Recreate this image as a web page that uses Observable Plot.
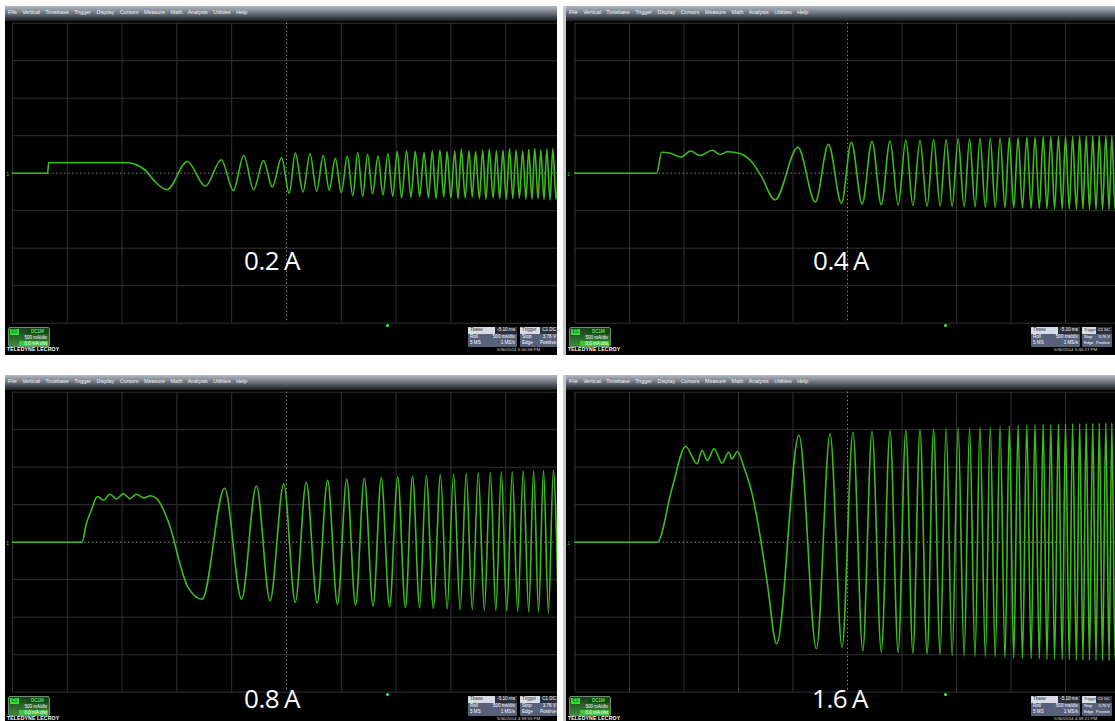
<!DOCTYPE html>
<html><head><meta charset="utf-8">
<script src="https://cdn.jsdelivr.net/npm/d3@7"></script>
<script src="https://cdn.jsdelivr.net/npm/@observablehq/plot@0.6"></script>
<style>
html,body{margin:0;padding:0;background:#fff;}
body{width:1115px;height:721px;position:relative;overflow:hidden;font-family:"Liberation Sans",Arial,sans-serif;}
.panel{position:absolute;background:#000;overflow:hidden;}
.panel.right{border-left:3px solid #c8c8c8;}
.menu{position:absolute;left:0;top:0;width:100%;height:15px;background:linear-gradient(#b4bac4 0%,#7a808a 40%,#3a3e45 80%,#1a1c20 100%);color:#f0f2f6;font-size:5.4px;line-height:13px;padding-left:3px;white-space:nowrap;word-spacing:4px;box-sizing:border-box;}
.scope{position:absolute;left:0;top:15px;}
.chbox{position:absolute;left:3px;top:321px;width:42px;height:20px;border-radius:2px;border:1px solid #6b8f6b;background:linear-gradient(#1f3d1f,#3a8a3a);box-sizing:border-box;font-size:4.5px;color:#fff;line-height:6px;}
.chbox .c1{position:absolute;left:1px;top:1px;width:9px;height:6px;background:#33e033;color:#062;text-align:center;font-weight:bold;}
.chbox .dc{position:absolute;left:18px;top:1px;width:21px;height:5px;background:#0d4d0d;color:#9f9;text-align:center;}
.chbox .r2{position:absolute;right:2px;top:7px;}
.chbox .r3{position:absolute;left:10px;right:1px;top:13px;height:5px;background:#39c839;color:#fff;text-align:right;padding-right:1px;}
.brand{position:absolute;left:2px;top:341px;font-size:5.2px;line-height:5px;color:#fff;font-weight:bold;letter-spacing:0.1px;}
.infobox{position:absolute;top:321px;height:20px;background:#58607a;border-radius:1px;font-size:4.6px;color:#fff;line-height:6.6px;overflow:hidden;}
.infobox.small{font-size:4px;}
.infobox .hd{background:#d8dce6;color:#333;height:6.6px;position:relative;padding-left:2px;}
.infobox .hd span{position:absolute;right:0;top:0;height:6.6px;background:#2a2f3a;color:#fff;padding:0 2px;}
.infobox .row{padding-left:2px;position:relative;}
.infobox .row span{position:absolute;right:2px;}
.stamp{position:absolute;top:342px;font-size:4.4px;line-height:4.5px;color:#ddd;}
.tdot{position:absolute;top:318px;width:3px;height:3px;border-radius:50%;background:#3f3;}
.lbl{position:absolute;color:#fff;font-family:"Open Sans","Noto Sans",sans-serif;font-size:26px;line-height:26px;letter-spacing:-0.5px;word-spacing:-1.5px;transform:translateX(-50%);white-space:nowrap;}
.mk{position:absolute;left:1px;top:165px;font-size:6px;color:#3cbc1e;}
</style></head>
<body>
<script>
// ---- data (time in divisions, current in divisions of 500 mA) ----
const menuItems = ["File","Vertical","Timebase","Trigger","Display","Cursors","Measure","Math","Analysis","Utilities","Help"];
const labels = ["0.2 A","0.4 A","0.8 A","1.6 A"];
const stamps = ["5/30/2014 5:00:58 PM","5/30/2014 5:00:27 PM","5/30/2014 4:59:55 PM","5/30/2014 4:59:21 PM"];
const gridDivsX = [0,1,2,3,4,5,6,7,8,9,10];
const gridDivsY = [-4,-3,-2,-1,0,1,2,3,4];

const trace02A = [
[0,0],[0.64,0],[0.66,0.28],[2.12,0.28],[2.21,0.25],[2.43,0.07],[2.58,-0.19],[2.82,-0.44],[3.19,0.31],[3.52,-0.35],[3.81,0.36],[4.03,-0.46],[4.22,0.47],[4.40,-0.44],[4.58,0.34],[4.74,-0.37],[4.91,0.41],[5.05,-0.54],[5.16,0.54],
[5.30,-0.50],[5.43,0.52],[5.55,-0.48],[5.67,0.47],[5.78,-0.45],[5.89,0.40],[6.00,-0.52],[6.11,0.45],[6.21,-0.60],[6.30,0.55],[6.39,-0.62],[6.48,0.50],[6.57,-0.55],[6.67,0.45],[6.76,-0.58],[6.85,0.52],[6.94,-0.62],[7.02,0.58],[7.10,-0.66],[7.19,0.60],[7.27,-0.64],[7.35,0.58],[7.43,-0.62],[7.51,0.55],[7.59,-0.66],[7.66,0.60],[7.73,-0.68],[7.80,0.62],[7.87,-0.64],[7.93,0.58],[8.00,-0.66],[8.07,0.60],[8.13,-0.68],[8.19,0.64],[8.26,-0.66],[8.33,0.60],[8.39,-0.64],[8.45,0.58],[8.52,-0.68],[8.58,0.62],[8.64,-0.70],[8.70,0.64],[8.77,-0.66],[8.83,0.60],[8.89,-0.68],[8.95,0.62],[9.01,-0.70],[9.07,0.66],[9.13,-0.68],[9.19,0.62],[9.25,-0.66],[9.31,0.60],[9.37,-0.70],[9.42,0.64],[9.48,-0.70],[9.53,0.66],[9.59,-0.68],[9.64,0.62],[9.70,-0.70],[9.75,0.64],[9.81,-0.72],[9.86,0.66],[9.92,-0.70],[9.97,0.64]
];
const trace04A = [
[0,0],[1.50,0],[1.59,0.56],[1.75,0.53],[1.94,0.43],[2.12,0.59],[2.30,0.47],[2.52,0.61],[2.66,0.50],[2.80,0.57],[2.94,0.55],[3.10,0.48],[3.22,0.34],[3.41,-0.06],[3.67,-0.71],[4.09,0.69],[4.41,-0.77],[4.65,0.77],[4.89,-0.80],[5.07,0.83],
[5.27,-0.82],[5.45,0.85],[5.62,-0.84],[5.78,0.86],[5.93,-0.85],[6.07,0.88],[6.20,-0.86],[6.33,0.88],[6.46,-0.88],[6.58,0.90],[6.70,-0.88],[6.81,0.90],[6.92,-0.89],[7.03,0.92],[7.14,-0.90],[7.24,0.92],[7.34,-0.90],[7.43,0.93],[7.53,-0.91],[7.62,0.94],[7.71,-0.92],[7.80,0.94],[7.89,-0.92],[7.97,0.95],[8.05,-0.93],[8.13,0.95],[8.21,-0.93],[8.29,0.96],[8.37,-0.94],[8.44,0.96],[8.52,-0.94],[8.59,0.97],[8.66,-0.95],[8.73,0.97],[8.80,-0.95],[8.87,0.98],[8.94,-0.95],[9.00,0.98],[9.07,-0.96],[9.13,0.98],[9.20,-0.96],[9.26,0.99],[9.32,-0.96],[9.38,0.99],[9.44,-0.97],[9.50,1.0],[9.56,-0.97],[9.62,1.0],[9.68,-0.97],[9.74,1.0],[9.80,-0.98],[9.85,1.0],[9.91,-0.98],[9.96,1.0]
];
const trace08A = [
[0,0],[1.27,0],[1.34,0.45],[1.45,0.9],[1.55,1.22],[1.66,1.12],[1.78,1.28],[1.90,1.15],[2.02,1.30],[2.14,1.16],[2.26,1.28],[2.40,1.18],[2.52,1.24],[2.64,1.15],[2.76,0.85],[2.90,0.30],[3.05,-0.55],[3.20,-1.20],[3.46,-1.52],[3.87,1.44],[4.18,-1.52],[4.45,1.50],[4.70,-1.56],[4.95,1.55],[5.16,-1.60],[5.36,1.60],[5.56,-1.62],[5.75,1.65],[5.93,-1.66],[6.10,1.68],[6.26,-1.68],[6.42,1.70],[6.58,-1.70],[6.73,1.72],[6.88,-1.72],[7.03,1.74],[7.17,-1.74],[7.30,1.76],[7.43,-1.75],[7.55,1.78],[7.68,-1.76],[7.81,1.80],[7.93,-1.78],[8.05,1.82],[8.17,-1.80],[8.28,1.84],[8.39,-1.80],[8.50,1.85],[8.61,-1.82],[8.72,1.86],[8.82,-1.82],[8.92,1.88],[9.02,-1.84],[9.12,1.88],[9.22,-1.85],[9.32,1.90],[9.42,-1.86],[9.51,1.90],[9.60,-1.86],[9.69,1.92],[9.78,-1.88],[9.87,1.92],[9.96,-1.88]
];
const trace16A = [
[0,0],[1.51,0],[1.78,1.43],[2.03,2.55],[2.24,2.09],[2.33,2.45],[2.43,2.18],[2.55,2.49],[2.70,2.11],[2.82,2.40],[2.88,2.22],[2.98,2.42],[3.10,2.0],[3.25,1.29],[3.40,0.13],[3.53,-1.11],[3.70,-2.71],[4.11,2.85],[4.43,-2.84],[4.68,2.89],[4.90,-2.80],[5.10,2.93],
[5.28,-2.90],[5.45,2.95],[5.62,-2.92],[5.78,2.97],[5.93,-2.94],[6.07,2.98],[6.20,-2.96],[6.33,3.0],[6.46,-2.98],[6.58,3.02],[6.70,-3.0],[6.81,3.04],[6.92,-3.02],[7.03,3.05],[7.14,-3.04],[7.24,3.06],[7.34,-3.05],[7.43,3.08],[7.53,-3.06],[7.62,3.08],[7.71,-3.07],[7.80,3.10],[7.89,-3.08],[7.97,3.10],[8.05,-3.09],[8.13,3.12],[8.21,-3.10],[8.29,3.12],[8.37,-3.10],[8.44,3.13],[8.52,-3.11],[8.59,3.14],[8.66,-3.12],[8.73,3.14],[8.80,-3.12],[8.87,3.15],[8.94,-3.13],[9.00,3.15],[9.07,-3.13],[9.13,3.16],[9.20,-3.14],[9.26,3.16],[9.32,-3.14],[9.38,3.17],[9.44,-3.15],[9.50,3.17],[9.56,-3.15],[9.62,3.18],[9.68,-3.15],[9.74,3.18],[9.80,-3.16],[9.85,3.18],[9.91,-3.16],[9.96,3.18]
];
const traces = [trace02A, trace04A, trace08A, trace16A];

// ---- layout ----
const panels = [
  {left:5, top:6, w:552, h:349, ml:7, ppd:54.8, lx:267, ly:240.5},
  {left:563, top:6, w:549, h:349, ml:8.5, ppd:54.5, lx:275, ly:240.5},
  {left:5, top:375, w:552, h:346, ml:7, ppd:54.8, lx:267, ly:310},
  {left:563, top:375, w:549, h:346, ml:8.5, ppd:54.5, lx:274, ly:310}
];

panels.forEach((p, i) => {
  const right = i % 2 === 1;
  const div = document.createElement("div");
  div.className = "panel" + (right ? " right" : "");
  Object.assign(div.style, {left: p.left + "px", top: p.top + "px", width: p.w + "px", height: p.h + "px"});
  document.body.appendChild(div);

  const menu = document.createElement("div");
  menu.className = "menu";
  menu.textContent = menuItems.join(" ");
  div.appendChild(menu);

  const gridH = 300, mt = 1.7, mb = 2;
  const xmax = (p.w - p.ml) / p.ppd;
  const plot = Plot.plot({
    width: p.w, height: mt + gridH + mb,
    marginLeft: p.ml, marginRight: 0, marginTop: mt, marginBottom: mb,
    style: {background: "transparent", overflow: "visible"},
    x: {domain: [0, xmax], axis: null},
    y: {domain: [-4, 4], axis: null},
    marks: [
      Plot.ruleX(gridDivsX.filter(d => d !== 5), {stroke: "#333", strokeWidth: 1}),
      Plot.ruleY(gridDivsY.filter(d => d !== 0), {stroke: "#333", strokeWidth: 1}),
      Plot.ruleX([5], {stroke: "#8c8c8c", strokeWidth: 1, strokeDasharray: "1.5,2.5"}),
      Plot.ruleY([0], {stroke: "#8c8c8c", strokeWidth: 1, strokeDasharray: "1.5,2.5"}),
      Plot.line(traces[i], {x: d => d[0], y: d => d[1], curve: "monotone-x", stroke: "#3cbc1e", strokeWidth: 1.6})
    ]
  });
  plot.classList.add("scope");
  div.appendChild(plot);

  const mk = document.createElement("div");
  mk.className = "mk"; mk.textContent = "1";
  div.appendChild(mk);

  div.insertAdjacentHTML("beforeend", `
    <div class="chbox"><div class="c1">C1</div><div class="dc">DC1M</div><div class="r2">500 mA/div</div><div class="r3">0.0 mA ofst</div></div>
    <div class="brand">TELEDYNE LECROY</div>
    <div class="tdot" style="left:${right?378:381}px"></div>
    <div class="infobox" style="left:${right?465:463}px;width:49px"><div class="hd">Tbase<span>-5.10 ms</span></div><div class="row">Roll<span>500 ms/div</span></div><div class="row">5 MS<span>1 MS/s</span></div></div>
    <div class="infobox${right?" small":""}" style="left:${right?516:515}px;width:${right?30:38}px"><div class="hd">Trigger<span>C1 DC</span></div><div class="row">Stop<span>3.76 V</span></div><div class="row">Edge<span>Positive</span></div></div>
    <div class="stamp" style="left:${right?488:492}px">${stamps[i]}</div>
  `);

  const lbl = document.createElement("div");
  lbl.className = "lbl";
  lbl.textContent = labels[i];
  Object.assign(lbl.style, {left: p.lx + "px", top: p.ly + "px"});
  div.appendChild(lbl);
});
</script>
</body></html>
